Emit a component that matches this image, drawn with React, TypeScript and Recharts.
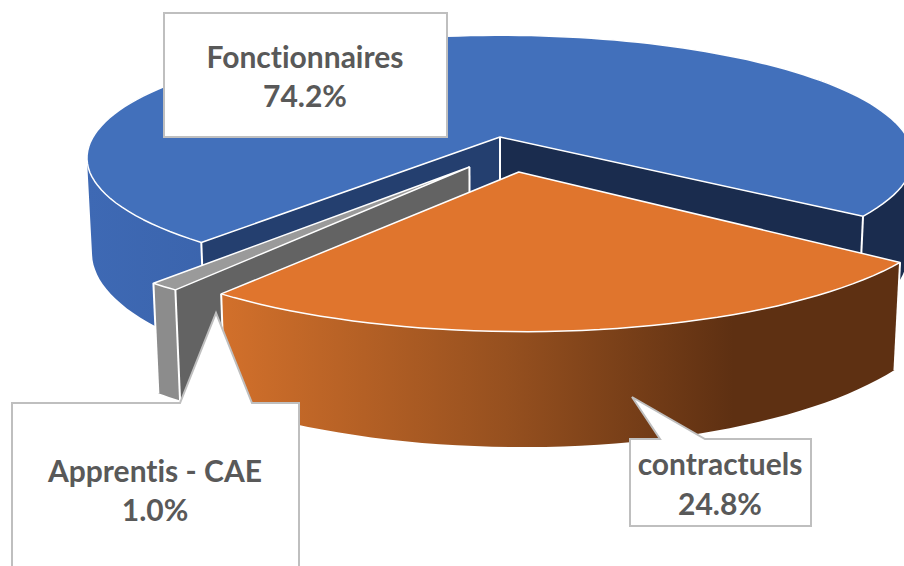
import { PieChart, Pie } from "recharts";

const categories = ["Fonctionnaires", "Apprentis - CAE", "contractuels"];
const shares = [74.2, 1.0, 24.8];

const pieData = categories.map((name, i) => ({ name, value: shares[i] }));

// perspective of the tilted disc
const TILT = 119 / 407;
const PERSP = 0.17;
const DEPTH = 94;
const DEPTH_PERSP = 0.012;

// how far each slice is pulled out, in disc radii
const explode = [
  [0, 0],
  [-0.072, 0.242],
  [0.044, 0.28],
];
// small turn of a slice, in degrees
const twist = [-0.4, 0, -1.5];

const topColors = ["#4270BB", "#9A9A9A", "#E0752D"];
const wallColors = ["url(#blueWall)", "#8C8C8C", "url(#orangeWall)"];
const startCutColors = ["#1A2C4E", "#636363", "#633213"];
const endCutColors = ["#243F6F", "#636363", "#633213"];

// speech-bubble outlines around the labels
const callouts = [
  { points: "164,13 447,13 447,137 164,137", cx: 305, lines: [68, 107] },
  { points: "12,403 180,403 216,313 252,403 299,403 299,580 12,580", cx: 155, lines: [482, 521] },
  { points: "630,439 660,439 632,397 705,439 811,439 811,526 630,526", cx: 720, lines: [475, 515] },
];

const rad = (deg: number) => (deg * Math.PI) / 180;

// same winding for every quad, so overlapping ones do not cancel out
const clockwise = (pts: number[][]) => {
  let area = 0;
  pts.forEach((p, i) => {
    const q = pts[(i + 1) % pts.length];
    area += p[0] * q[1] - q[0] * p[1];
  });
  return area < 0 ? [...pts].reverse() : pts;
};

const Slice3D = (props: any) => {
  const { cx, cy, outerRadius, index } = props;
  const startAngle = props.startAngle + twist[index];
  const endAngle = props.endAngle + twist[index];
  const [ox, oy] = explode[index];
  const rx = outerRadius;
  const ry = outerRadius * TILT;

  const project = (X: number, Y: number, z: number) => {
    const px = X + ox;
    const py = Y + oy;
    const s = 1 / (1 - PERSP * py + DEPTH_PERSP * z);
    return [cx + rx * px * s, cy + (ry * py + DEPTH * z) * s];
  };
  // recharts angle: x = cos, screen y = -sin
  const rim = (a: number, z: number) => project(Math.cos(rad(a)), -Math.sin(rad(a)), z);
  const apex = (z: number) => project(0, 0, z);
  const toPath = (pts: number[][]) =>
    "M" + pts.map((p) => `${p[0].toFixed(1)},${p[1].toFixed(1)}`).join("L") + "Z";

  const steps = Math.max(4, Math.ceil((endAngle - startAngle) / 2));
  const arc = (z: number) => {
    const pts: number[][] = [];
    for (let i = 0; i <= steps; i++) {
      pts.push(rim(startAngle + ((endAngle - startAngle) * i) / steps, z));
    }
    return pts;
  };

  const cut = (a: number) => [apex(0), rim(a, 0), rim(a, 1), apex(1)];
  // a cut face is seen only when its normal points at the viewer
  const showStart = Math.cos(rad(startAngle)) > 0;
  const showEnd = Math.cos(rad(endAngle)) < 0;

  const topArc = arc(0);
  const bottomArc = arc(1);
  // the outer wall is a strip of quads, a single outline would lose the silhouette
  const wall = topArc
    .slice(0, -1)
    .map((p, i) => toPath(clockwise([p, topArc[i + 1], bottomArc[i + 1], bottomArc[i]])))
    .join("");
  const edge = (p: number[][]) => (
    <line x1={p[0][0]} y1={p[0][1]} x2={p[1][0]} y2={p[1][1]} stroke="#fff" strokeWidth={2} />
  );

  return (
    <g>
      <path d={wall} fill={wallColors[index]} />
      {showStart && <path d={toPath(cut(startAngle))} fill={startCutColors[index]} />}
      {showEnd && <path d={toPath(cut(endAngle))} fill={endCutColors[index]} />}
      {(showStart || showEnd) && edge([apex(0), apex(1)])}
      {edge([rim(startAngle, 0), rim(startAngle, 1)])}
      {edge([rim(endAngle, 0), rim(endAngle, 1)])}
      <path
        d={toPath([apex(0), ...topArc])}
        fill={topColors[index]}
        stroke="#fff"
        strokeWidth={1.5}
        strokeLinejoin="round"
      />
    </g>
  );
};

const labelStyle = { fontVariantLigatures: "none" };

const Callout = (props: any) => {
  const { index, name, value } = props;
  const box = callouts[index];
  return (
    <g>
      <polygon points={box.points} fill="#fff" stroke="#BFBFBF" strokeWidth={2} />
      <text
        x={box.cx}
        y={box.lines[0]}
        textAnchor="middle"
        fontFamily="Lato"
        fontWeight={700}
        fontSize={30}
        fill="#595959"
        style={labelStyle}
      >
        {name}
      </text>
      <text
        x={box.cx}
        y={box.lines[1]}
        textAnchor="middle"
        fontFamily="Lato"
        fontWeight={700}
        fontSize={30}
        fill="#595959"
        style={labelStyle}
      >
        {value.toFixed(1)}%
      </text>
    </g>
  );
};

const App = () => {
  return (
    <div style={{ position: "absolute", left: 0, top: 0, width: 904, height: 566 }}>
      <PieChart width={904} height={566} margin={{ top: 0, right: 0, bottom: 0, left: 0 }}>
        <defs>
          <linearGradient id="blueWall" gradientUnits="userSpaceOnUse" x1="87" y1="0" x2="870" y2="0">
            <stop offset="0" stopColor="#3E69B4" />
            <stop offset="0.2" stopColor="#3A63AB" />
            <stop offset="0.95" stopColor="#1A2C4E" />
          </linearGradient>
          <linearGradient id="orangeWall" gradientUnits="userSpaceOnUse" x1="222" y1="0" x2="790" y2="0">
            <stop offset="0" stopColor="#D2702B" />
            <stop offset="0.5" stopColor="#96501F" />
            <stop offset="0.9" stopColor="#5E3012" />
            <stop offset="1" stopColor="#5E3012" />
          </linearGradient>
        </defs>
        <Pie
          data={pieData}
          dataKey="value"
          nameKey="name"
          cx={500}
          cy={137}
          innerRadius={0}
          outerRadius={407}
          startAngle={-36.35}
          endAngle={323.65}
          stroke="none"
          shape={Slice3D}
          label={Callout}
          labelLine={false}
          isAnimationActive={false}
        />
      </PieChart>
    </div>
  );
};

export default App;
